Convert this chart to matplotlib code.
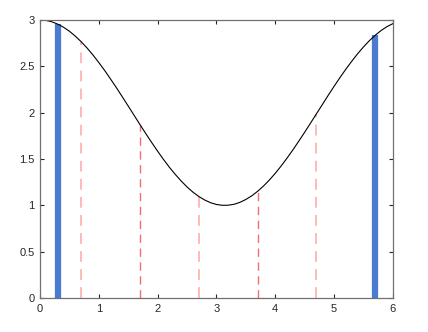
import matplotlib
matplotlib.use("Agg")
import matplotlib.pyplot as plt

plt.rcParams["font.family"] = ["Liberation Sans", "DejaVu Sans"]

# curve (x from 0 to 6 in steps of 0.1)
curve_x = [i / 10 for i in range(61)]
curve_y = [3.000, 2.995, 2.980, 2.955, 2.921, 2.878, 2.825, 2.765, 2.697, 2.622,
           2.540, 2.454, 2.362, 2.268, 2.170, 2.071, 1.971, 1.871, 1.773, 1.677,
           1.584, 1.495, 1.411, 1.334, 1.263, 1.199, 1.143, 1.096, 1.058, 1.029,
           1.010, 1.001, 1.002, 1.012, 1.033, 1.064, 1.103, 1.152, 1.209, 1.274,
           1.346, 1.425, 1.510, 1.599, 1.693, 1.789, 1.888, 1.988, 2.087, 2.187,
           2.284, 2.378, 2.469, 2.554, 2.635, 2.709, 2.776, 2.835, 2.886, 2.928,
           2.960]

# thick blue stems
blue_x = [0.3, 5.7]
blue_h = [2.955, 2.835]

# dashed stems
pink_x = [0.7, 2.7, 4.7]
pink_h = [2.765, 1.096, 1.988]
red_x = [1.7, 3.7]
red_h = [1.871, 1.152]

fig = plt.figure(figsize=(4.28, 3.32), dpi=100)
ax = fig.add_axes([0.0935, 0.102, 0.8245, 0.838])

ax.vlines(pink_x, 0, pink_h, colors="#ffb3b3", linestyles=(0, (6, 4)), linewidth=1.3)
ax.vlines(red_x, 0, red_h, colors="#f07070", linestyles=(0, (6, 4)), linewidth=1.0)
ax.vlines(blue_x, 0, blue_h, colors="#4a7bd0", linewidth=4.5)
ax.plot(curve_x, curve_y, color="black", linewidth=0.8)

ax.set_xlim(0, 6)
ax.set_ylim(0, 3)
ax.set_xticks([0, 1, 2, 3, 4, 5, 6])
ax.set_yticks([0, 0.5, 1, 1.5, 2, 2.5, 3])
ax.set_yticklabels(["0", "0.5", "1", "1.5", "2", "2.5", "3"])
ax.tick_params(direction="in", top=True, right=True, length=3, width=0.8,
               labelsize=8, colors="#262626", pad=4)
for s in ax.spines.values():
    s.set_color("#707070")
    s.set_linewidth(0.9)

fig.savefig("out.png", dpi=100)
